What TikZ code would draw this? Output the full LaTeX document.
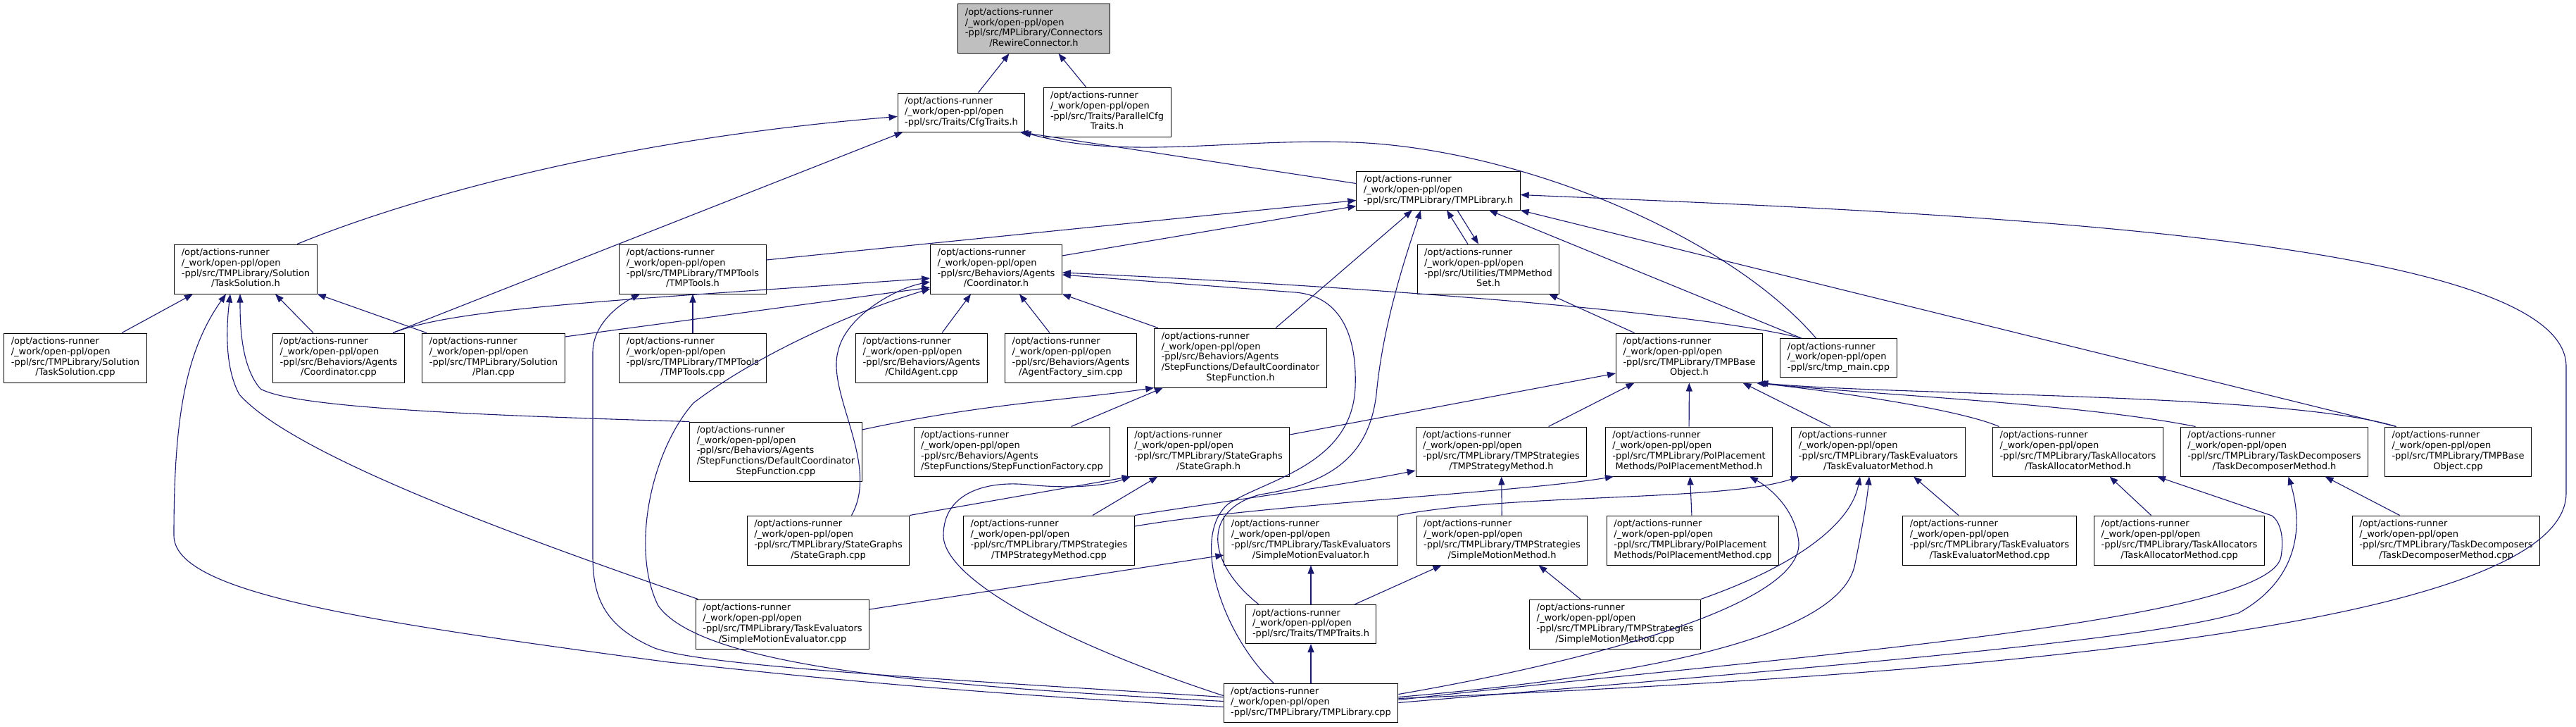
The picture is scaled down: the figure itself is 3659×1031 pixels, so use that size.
\documentclass[tikz,border=0pt]{standalone}
\usepackage{fontspec}
\setmainfont{DejaVu Sans}
\usepackage{tikz}
\usetikzlibrary{arrows.meta}
\definecolor{incEdge}{HTML}{191970}
\definecolor{incFocus}{HTML}{BFBFBF}
% file label: common prefix, middle lines (#1), centred last line (#2)
\newcommand{\incfile}[2]{\begin{tabular}{@{}l@{}}/opt/actions-runner\\/\_work/open-ppl/open#1\\\multicolumn{1}{@{}c@{}}{#2}\end{tabular}}
\tikzset{
  incnode/.style={draw=black, line width=1pt, fill=white, inner xsep=10pt, inner ysep=0pt,
    minimum height=55pt, font=\fontsize{13}{14.7}\selectfont},
  incnode4/.style={incnode, minimum height=70pt},
  incnode5/.style={incnode, minimum height=84pt},
  incfocus/.style={incnode4, fill=incFocus},
  incedge/.style={draw=incEdge, line width=1.1pt, -{Triangle[length=12pt,width=9pt]}}
}
\begin{document}
\begin{tikzpicture}[x=1pt,y=-1pt]
  \useasboundingbox (0,0) rectangle (3659,1031);
  % rows 0-2
  \node[incfocus] (rewire) at (1468.5,40.5) {\incfile{\\-ppl/src/MPLibrary/Connectors}{/RewireConnector.h}};
  \node[incnode] (cfgtraits) at (1365.5,159.5) {\incfile{}{-ppl/src/Traits/CfgTraits.h}};
  \node[incnode4] (parcfg) at (1572.5,159) {\incfile{\\-ppl/src/Traits/ParallelCfg}{Traits.h}};
  \node[incnode] (tmplibh) at (2043,270.5) {\incfile{}{-ppl/src/TMPLibrary/TMPLibrary.h}};
  % row 3
  \node[incnode4] (tasksolh) at (349,382) {\incfile{\\-ppl/src/TMPLibrary/Solution}{/TaskSolution.h}};
  \node[incnode4] (tmptoolsh) at (984,382) {\incfile{\\-ppl/src/TMPLibrary/TMPTools}{/TMPTools.h}};
  \node[incnode4] (coordh) at (1415,382) {\incfile{\\-ppl/src/Behaviors/Agents}{/Coordinator.h}};
  \node[incnode4] (methodset) at (2114,382) {\incfile{\\-ppl/src/Utilities/TMPMethod}{Set.h}};
  % row 4
  \node[incnode4] (tasksolcpp) at (107,508) {\incfile{\\-ppl/src/TMPLibrary/Solution}{/TaskSolution.cpp}};
  \node[incnode4] (coordcpp) at (481,508) {\incfile{\\-ppl/src/Behaviors/Agents}{/Coordinator.cpp}};
  \node[incnode4] (plancpp) at (701,508) {\incfile{\\-ppl/src/TMPLibrary/Solution}{/Plan.cpp}};
  \node[incnode4] (tmptoolscpp) at (984,508) {\incfile{\\-ppl/src/TMPLibrary/TMPTools}{/TMPTools.cpp}};
  \node[incnode4] (childcpp) at (1309,508) {\incfile{\\-ppl/src/Behaviors/Agents}{/ChildAgent.cpp}};
  \node[incnode4] (factorycpp) at (1521,508) {\incfile{\\-ppl/src/Behaviors/Agents}{/AgentFactory\_sim.cpp}};
  \node[incnode5] (dcsfh) at (1762,508) {\incfile{\\-ppl/src/Behaviors/Agents\\/StepFunctions/DefaultCoordinator}{StepFunction.h}};
  \node[incnode4] (baseobjh) at (2399.5,508) {\incfile{\\-ppl/src/TMPLibrary/TMPBase}{Object.h}};
  \node[incnode] (tmpmain) at (2611.5,508) {\incfile{}{-ppl/src/tmp\_main.cpp}};
  % row 5
  \node[incnode5] (dcsfcpp) at (1102,641) {\incfile{\\-ppl/src/Behaviors/Agents\\/StepFunctions/DefaultCoordinator}{StepFunction.cpp}};
  \node[incnode4] (sffcpp) at (1437.5,641) {\incfile{\\-ppl/src/Behaviors/Agents}{/StepFunctions/StepFunctionFactory.cpp}};
  \node[incnode4] (stategraphh) at (1716.5,641) {\incfile{\\-ppl/src/TMPLibrary/StateGraphs}{/StateGraph.h}};
  \node[incnode4] (stratmethh) at (2132.5,641) {\incfile{\\-ppl/src/TMPLibrary/TMPStrategies}{/TMPStrategyMethod.h}};
  \node[incnode4] (poih) at (2399,641) {\incfile{\\-ppl/src/TMPLibrary/PoIPlacement}{Methods/PoIPlacementMethod.h}};
  \node[incnode4] (tevalh) at (2668,641) {\incfile{\\-ppl/src/TMPLibrary/TaskEvaluators}{/TaskEvaluatorMethod.h}};
  \node[incnode4] (tallocch) at (2951.5,641) {\incfile{\\-ppl/src/TMPLibrary/TaskAllocators}{/TaskAllocatorMethod.h}};
  \node[incnode4] (tdecomph) at (3230.5,641) {\incfile{\\-ppl/src/TMPLibrary/TaskDecomposers}{/TaskDecomposerMethod.h}};
  \node[incnode4] (baseobjcpp) at (3491.5,641) {\incfile{\\-ppl/src/TMPLibrary/TMPBase}{Object.cpp}};
  % row 6
  \node[incnode4] (stategraphcpp) at (1176.5,767) {\incfile{\\-ppl/src/TMPLibrary/StateGraphs}{/StateGraph.cpp}};
  \node[incnode4] (stratmethcpp) at (1490,767) {\incfile{\\-ppl/src/TMPLibrary/TMPStrategies}{/TMPStrategyMethod.cpp}};
  \node[incnode4] (smevalh) at (1862,767) {\incfile{\\-ppl/src/TMPLibrary/TaskEvaluators}{/SimpleMotionEvaluator.h}};
  \node[incnode4] (smmethh) at (2133.5,767) {\incfile{\\-ppl/src/TMPLibrary/TMPStrategies}{/SimpleMotionMethod.h}};
  \node[incnode4] (poicpp) at (2404.5,767) {\incfile{\\-ppl/src/TMPLibrary/PoIPlacement}{Methods/PoIPlacementMethod.cpp}};
  \node[incnode4] (tevalcpp) at (2826,767) {\incfile{\\-ppl/src/TMPLibrary/TaskEvaluators}{/TaskEvaluatorMethod.cpp}};
  \node[incnode4] (talloccpp) at (3095.5,767) {\incfile{\\-ppl/src/TMPLibrary/TaskAllocators}{/TaskAllocatorMethod.cpp}};
  \node[incnode4] (tdecompcpp) at (3474.5,767) {\incfile{\\-ppl/src/TMPLibrary/TaskDecomposers}{/TaskDecomposerMethod.cpp}};
  % rows 7-8
  \node[incnode4] (smevalcpp) at (1111.5,886) {\incfile{\\-ppl/src/TMPLibrary/TaskEvaluators}{/SimpleMotionEvaluator.cpp}};
  \node[incnode] (tmptraits) at (1862,886) {\incfile{}{-ppl/src/Traits/TMPTraits.h}};
  \node[incnode4] (smmethcpp) at (2294,886) {\incfile{\\-ppl/src/TMPLibrary/TMPStrategies}{/SimpleMotionMethod.cpp}};
  \node[incnode] (tmplibcpp) at (1862,997.5) {\incfile{}{-ppl/src/TMPLibrary/TMPLibrary.cpp}};

  % RewireConnector.h
  \draw[incedge] ([xshift=24pt]cfgtraits.north) -- ([xshift=-35pt]rewire.south);
  \draw[incedge] ([xshift=-30pt]parcfg.north) -- ([xshift=35pt]rewire.south);
  % CfgTraits.h
  \draw[incedge] ([xshift=73pt]tasksolh.north) .. controls (560,290) and (850,200) .. ([yshift=-6pt]cfgtraits.west);
  \draw[incedge] ([xshift=77pt]coordcpp.north) -- ([xshift=-83pt]cfgtraits.south);
  \draw[incedge] ([yshift=10pt]tmplibh.west) -- ([xshift=-8pt]cfgtraits.south east);
  \draw[incedge] ([xshift=-32pt]tmpmain.north) .. controls (2450,330) and (2150,210) .. (1921,202) .. controls (1750,196) and (1600,228) .. ([xshift=-4pt]cfgtraits.south east);
  % TMPLibrary.h
  \draw[incedge] ([yshift=13pt]tmptoolsh.east) -- ([yshift=-14pt]tmplibh.west);
  \draw[incedge] ([yshift=19pt]coordh.east) -- ([yshift=-22pt]tmplibh.west);
  \draw[incedge] ([xshift=-29pt]methodset.north) -- ([xshift=12pt]tmplibh.south);
  \draw[incedge] ([xshift=27pt]tmplibh.south) -- ([xshift=-14pt]methodset.north);
  \draw[incedge] ([xshift=50pt]dcsfh.north) -- ([xshift=-37pt]tmplibh.south);
  \draw[incedge] ([xshift=-74pt]tmptraits.north) .. controls (1715,800) and (1705,725) .. (1790,702) .. controls (1900,685) and (1945,640) .. (1955,560) .. controls (1965,450) and (2005,340) .. ([xshift=-25pt]tmplibh.south);
  \draw[incedge] ([xshift=-53pt]tmpmain.north) -- ([xshift=72pt]tmplibh.south);
  \draw[incedge] ([xshift=-88pt]baseobjcpp.north) -- (tmplibh.south east);
  \draw[incedge] ([yshift=6pt]tmplibcpp.east) .. controls (2700,962) and (3645,900) .. (3645,700) -- (3645,520) .. controls (3645,330) and (2700,300) .. ([yshift=-6pt]tmplibh.east);
  % Coordinator.h
  \draw[incedge] ([xshift=-53pt]tmpmain.north) .. controls (2400,440) and (1900,405) .. ([yshift=-5pt]coordh.east);
  \draw[incedge] ([xshift=-53pt]tmplibcpp.north) .. controls (1735,900) and (1690,760) .. (1745,715) .. controls (1800,680) and (1920,660) .. (1925,550) .. controls (1928,470) and (1900,420) .. (1840,415) -- ([yshift=-8pt]coordh.east);
  \draw[incedge] ([yshift=2pt]tmplibcpp.west) .. controls (1350,975) and (1000,950) .. (935,860) .. controls (895,780) and (925,640) .. (985,572) .. controls (1080,500) and (1220,440) .. ([yshift=-28pt]coordh.west);
  \draw[incedge] ([xshift=29pt]childcpp.north) -- ([xshift=-36pt]coordh.south);
  \draw[incedge] ([xshift=-30pt]factorycpp.north) -- ([xshift=33pt]coordh.south);
  \draw[incedge] ([xshift=-117pt]dcsfh.north) -- (coordh.south east);
  \draw[incedge] ([xshift=77pt]coordcpp.north) .. controls (650,436) and (900,425) .. ([yshift=-13pt]coordh.west);
  \draw[incedge] ([yshift=30pt]plancpp.east) -- ([yshift=-26pt]coordh.west);
  \draw[incedge] ([xshift=33pt]stategraphcpp.north) .. controls (1250,660) and (1175,560) .. (1190,500) .. controls (1200,450) and (1270,410) .. ([yshift=-18pt]coordh.west);
  % TaskSolution.h
  \draw[incedge] ([xshift=66pt]tasksolcpp.north) -- ([xshift=-75pt]tasksolh.south);
  \draw[incedge] ([xshift=-36pt]coordcpp.north) -- ([xshift=42pt]tasksolh.south);
  \draw[incedge] ([xshift=-95pt]plancpp.north) -- (tasksolh.south east);
  \draw[incedge] ([yshift=-6pt]tmplibcpp.west) .. controls (1300,980) and (1100,955) .. (950,940) .. controls (500,880) and (247,840) .. (247,760) .. controls (247,600) and (262,500) .. ([xshift=-28pt]tasksolh.south);
  \draw[incedge] ([xshift=-120pt]smevalcpp.north) .. controls (760,770) and (420,650) .. (340,560) .. controls (318,520) and (322,460) .. ([xshift=-22pt]tasksolh.south);
  \draw[incedge] (dcsfcpp.north west) .. controls (700,590) and (420,580) .. (370,552) .. controls (342,520) and (341,460) .. ([xshift=-8pt]tasksolh.south);
  % TMPTools.h
  \draw[incedge] (tmptoolscpp) -- (tmptoolsh);
  \draw[incedge] ([yshift=8pt]tmplibcpp.west) .. controls (1300,962) and (1000,945) .. (930,920) .. controls (860,890) and (842,850) .. (842,790) -- (842,500) .. controls (842,460) and (880,432) .. ([xshift=-75pt]tmptoolsh.south);
  % DefaultCoordinatorStepFunction.h
  \draw[incedge] ([yshift=31pt]dcsfcpp.east) .. controls (1400,572) and (1520,568) .. (dcsfh.south west);
  \draw[incedge] ([xshift=84pt]sffcpp.north) -- ([xshift=-110pt]dcsfh.south);
  % TMPMethodSet.h and TMPBaseObject.h
  \draw[incedge] ([xshift=-78pt]baseobjh.north) -- ([xshift=86pt]methodset.south);
  \draw[incedge] ([yshift=24pt]stategraphh.east) -- ([yshift=-22pt]baseobjh.west);
  \draw[incedge] ([xshift=67pt]stratmethh.north) -- ([xshift=-78pt]baseobjh.south);
  \draw[incedge] (poih) -- (baseobjh);
  \draw[incedge] ([xshift=-68pt]tevalh.north) -- ([xshift=76pt]baseobjh.south);
  \draw[incedge] ([xshift=-112pt]tallocch.north) .. controls (2780,580) and (2600,555) .. ([xshift=95pt]baseobjh.south);
  \draw[incedge] ([xshift=-112pt]tdecomph.north) .. controls (2950,572) and (2650,560) .. ([xshift=97pt]baseobjh.south);
  \draw[incedge] ([xshift=-88pt]baseobjcpp.north) .. controls (3250,558) and (2700,562) .. ([xshift=100pt]baseobjh.south);
  % StateGraph.h
  \draw[incedge] (stategraphcpp.north east) -- ([xshift=5pt]stategraphh.south west);
  \draw[incedge] ([xshift=62pt]stratmethcpp.north) -- ([xshift=-72pt]stategraphh.south);
  \draw[incedge] ([yshift=10pt]tmplibcpp.west) .. controls (1500,910) and (1340,820) .. (1340,760) .. controls (1340,700) and (1400,682) .. (1460,688) .. controls (1520,694) and (1570,690) .. ([xshift=5pt]stategraphh.south west);
  % TMPStrategyMethod.h and PoIPlacementMethod.h
  \draw[incedge] (stratmethcpp.north east) .. controls (1750,710) and (1900,690) .. ([yshift=-27pt]stratmethh.west);
  \draw[incedge] (smmethh) -- (stratmethh);
  \draw[incedge] ([yshift=20pt]stratmethcpp.east) .. controls (1800,715) and (2150,700) .. ([xshift=12pt]poih.south west);
  \draw[incedge] (poicpp) -- (poih);
  \draw[incedge] ([yshift=12pt]tmplibcpp.east) .. controls (2250,940) and (2560,860) .. (2555,770) .. controls (2550,720) and (2510,690) .. ([xshift=86pt]poih.south);
  % TaskEvaluatorMethod.h
  \draw[incedge] ([xshift=-44pt]tevalcpp.north) -- ([xshift=50pt]tevalh.south);
  \draw[incedge] (smmethcpp.north east) .. controls (2560,800) and (2630,740) .. ([xshift=-26pt]tevalh.south);
  \draw[incedge] ([yshift=8pt]tmplibcpp.east) .. controls (2450,950) and (2620,880) .. (2635,800) .. controls (2645,750) and (2652,710) .. ([xshift=-13pt]tevalh.south);
  \draw[incedge] (smevalh.north east) .. controls (2150,700) and (2450,712) .. ([xshift=11pt]tevalh.south west);
  % SimpleMotion files and TMPTraits.h
  \draw[incedge] ([xshift=-49pt]smmethcpp.north) -- ([xshift=52pt]smmethh.south);
  \draw[incedge] (tmptraits) -- (smevalh);
  \draw[incedge] ([xshift=62pt]tmptraits.north) -- ([xshift=-86pt]smmethh.south);
  \draw[incedge] (tmplibcpp) -- (tmptraits);
  \draw[incedge] ([yshift=21pt]smevalcpp.east) -- ([yshift=-21pt]smevalh.west);
  % TaskAllocatorMethod.h and TaskDecomposerMethod.h
  \draw[incedge] ([xshift=-40pt]talloccpp.north) -- ([xshift=45pt]tallocch.south);
  \draw[incedge] ([yshift=4pt]tmplibcpp.east) .. controls (2500,935) and (3225,885) .. (3240,790) .. controls (3245,760) and (3238,740) .. (3227,732) -- ([xshift=-9pt]tallocch.south east);
  \draw[incedge] ([xshift=-66pt]tdecompcpp.north) -- ([xshift=72pt]tdecomph.south);
  \draw[incedge] (tmplibcpp.east) .. controls (2550,950) and (3050,910) .. (3180,870) .. controls (3270,820) and (3270,740) .. ([xshift=20pt]tdecomph.south);
\end{tikzpicture}
\end{document}
